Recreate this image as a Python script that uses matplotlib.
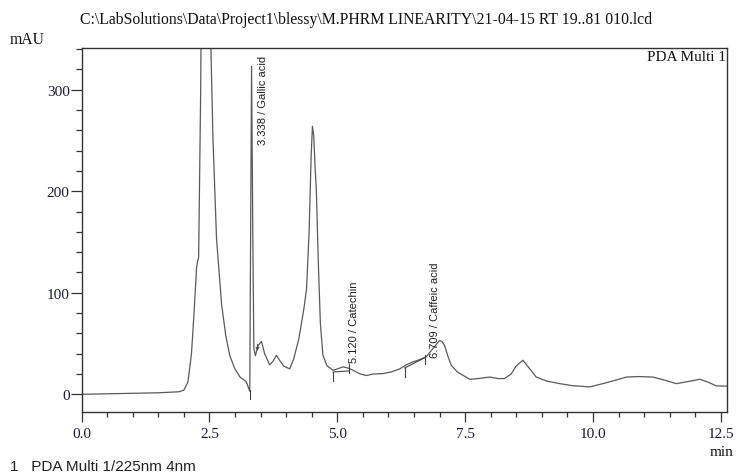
#!/usr/bin/env python3
# -*- coding: utf-8 -*-
"""
Chromatogram, PDA Multi 1 at 225 nm, with the three labelled peaks.
"""

import matplotlib
matplotlib.use("Agg")
import matplotlib.pyplot as plt
from matplotlib.ticker import MultipleLocator, FixedLocator

# ---------------------------------------------------------------------------
# data (time in min, signal in mAU)
# ---------------------------------------------------------------------------
time_min = [0.00, 0.50, 1.00, 1.50, 1.90, 2.00, 2.08, 2.15, 2.20, 2.25,
            2.27, 2.29, 2.33, 2.36, 2.40, 2.43, 2.47, 2.51, 2.53, 2.57,
            2.64, 2.74, 2.82, 2.90, 3.00, 3.10, 3.22, 3.29, 3.30, 3.325,
            3.35, 3.37, 3.40, 3.45, 3.52, 3.58, 3.68, 3.75, 3.81, 3.88,
            3.95, 4.07, 4.15, 4.25, 4.35, 4.40, 4.45, 4.49, 4.515, 4.54,
            4.57, 4.59, 4.63, 4.67, 4.72, 4.80, 4.92, 5.00, 5.11, 5.20,
            5.30, 5.37, 5.45, 5.57, 5.70, 5.89, 6.05, 6.22, 6.35, 6.48,
            6.60, 6.74, 6.87, 6.95, 7.00, 7.05, 7.10, 7.16, 7.23, 7.35,
            7.46, 7.59, 7.75, 7.98, 8.15, 8.27, 8.40, 8.50, 8.63, 8.75,
            8.89, 9.10, 9.35, 9.60, 9.94, 10.19, 10.45, 10.65, 10.90, 11.17,
            11.40, 11.63, 11.85, 12.09, 12.25, 12.41, 12.62]
signal_mau = [0.0, 0.5, 1.0, 1.5, 2.5, 4.0, 12.0, 40.0, 80.0, 125.0,
              131.0, 135.0, 300.0, 500.0, 800.0, 900.0, 800.0, 500.0, 341.0, 252.0,
              153.0, 88.0, 58.0, 38.0, 25.0, 17.0, 12.5, 3.0, 100.0, 323.0,
              150.0, 45.0, 38.0, 48.0, 52.0, 40.0, 29.0, 33.0, 38.5, 33.0,
              28.0, 25.0, 35.0, 55.0, 85.0, 104.0, 160.0, 235.0, 264.0, 255.0,
              220.0, 203.0, 130.0, 70.0, 38.5, 28.0, 23.7, 25.0, 27.0, 26.0,
              24.0, 22.0, 20.0, 18.5, 20.0, 20.4, 22.0, 25.0, 29.0, 32.0,
              34.0, 37.0, 45.0, 50.0, 53.0, 52.0, 48.0, 38.0, 28.6, 22.0,
              18.7, 14.8, 15.5, 17.0, 15.5, 15.5, 20.0, 28.0, 33.6, 26.0,
              17.0, 13.0, 10.5, 8.5, 7.3, 10.5, 14.0, 17.0, 17.5, 17.0,
              14.0, 10.5, 12.5, 14.8, 12.0, 8.3, 8.0]

# labelled peaks: retention time, name, height of label foot (mAU)
peak_rt = [3.338, 5.120, 6.709]
peak_name = ["Gallic acid", "Catechin", "Caffeic acid"]
peak_label_y = [247, 32, 37]

# integration start/stop marks (time, signal at mark)
mark_t = [3.29, 4.92, 5.23, 6.32, 6.71]
mark_y = [0, 18, 26, 22, 35]

x_ticks = [0.0, 2.5, 5.0, 7.5, 10.0, 12.5]
y_ticks = [0, 100, 200, 300]

# ---------------------------------------------------------------------------
my_dpi = 100
fig = plt.figure(figsize=(737/my_dpi, 477/my_dpi), dpi=my_dpi)
ax = fig.add_axes([0.1106, 0.134, 0.8758, 0.763])

ink = "#333333"
serif = "Liberation Serif"
sans = "Liberation Sans"

ax.plot(time_min, signal_mau, color="#5a5a5a", linewidth=0.9)

# integration marks
for t, y in zip(mark_t, mark_y):
    ax.plot([t, t], [y - 5, y + 4], color="#444444", linewidth=0.8)
ax.plot([4.92, 5.23], [22, 23], color="#444444", linewidth=0.8)
ax.plot([6.32, 6.71], [26, 36], color="#444444", linewidth=0.8)
ax.annotate("", xy=(3.44, 40), xytext=(3.44, 52),
            arrowprops=dict(arrowstyle="->", color="#444444", lw=0.7,
                            mutation_scale=5))

for rt, name, ly in zip(peak_rt, peak_name, peak_label_y):
    ax.annotate("%.3f / %s" % (rt, name), xy=(rt, ly), xytext=(7.5, 0),
                textcoords="offset points", rotation=90, ha="center",
                va="bottom", fontsize=8, family=sans, color="#222222")

ax.set_xlim(0, 12.62)
ax.set_ylim(-17.5, 341)

ax.xaxis.set_major_locator(FixedLocator(x_ticks))
ax.set_xticklabels(["%.1f" % v for v in x_ticks])
ax.xaxis.set_minor_locator(MultipleLocator(0.5))
ax.yaxis.set_major_locator(FixedLocator(y_ticks))
ax.yaxis.set_minor_locator(MultipleLocator(20))

ax.tick_params(which="both", direction="out", colors=ink, top=False, right=False)
ax.tick_params(axis="x", which="major", length=7, width=0.9, pad=3.5)
ax.tick_params(axis="x", which="minor", length=3.5, width=0.9)
ax.tick_params(axis="y", which="major", length=8, width=0.9, pad=0.5)
ax.tick_params(axis="y", which="minor", length=4, width=0.9)
for lbl in ax.get_xticklabels() + ax.get_yticklabels():
    lbl.set_family(serif)
    lbl.set_fontsize(11)
    lbl.set_color("#1c1c30")

for sp in ax.spines.values():
    sp.set_color(ink)
    sp.set_linewidth(1.0)

ax.text(0.998, 0.995, "PDA Multi 1", transform=ax.transAxes, ha="right",
        va="top", family=serif, fontsize=11, color="#111111")

fig.text(80/737, 1 - 20/477, r"C:\LabSolutions\Data\Project1\blessy\M.PHRM LINEARITY\21-04-15 RT 19..81 010.lcd",
         ha="left", va="center", family=serif, fontsize=11.3, color="#111111")
fig.text(10/737, 1 - 40/477, "mAU", ha="left", va="center", family=serif,
         fontsize=11.3, color="#111111")
fig.text(722/737, 1 - 453/477, "min", ha="center", va="center", family=serif,
         fontsize=11, color="#111111")
fig.text(10/737, 1 - 467/477, "1   PDA Multi 1/225nm 4nm", ha="left",
         va="center", family=sans, fontsize=11, color="#222222")

fig.savefig("out.png", dpi=my_dpi)
